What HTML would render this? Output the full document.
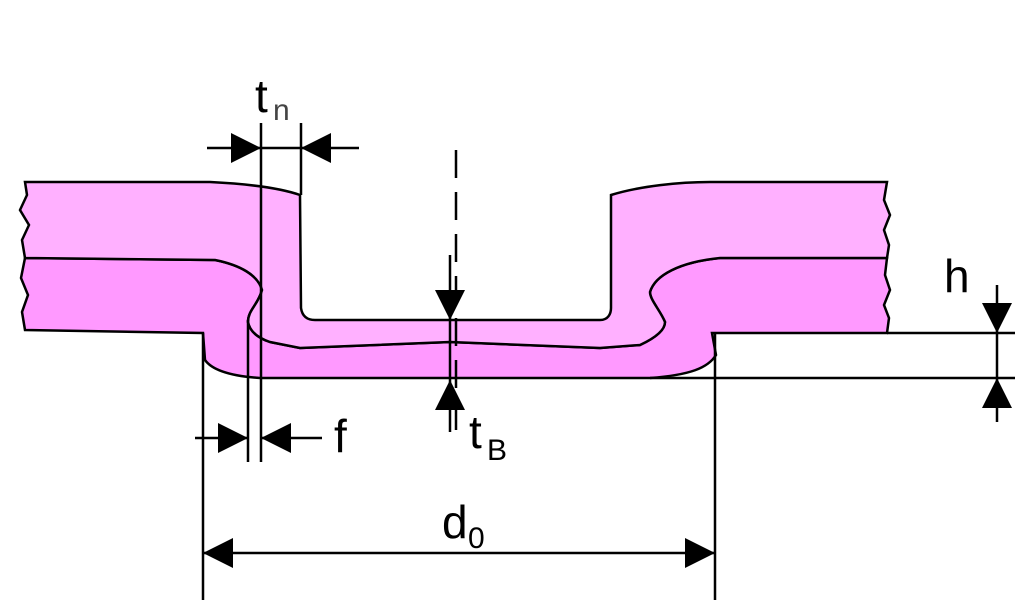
<!DOCTYPE html><html><head><style>body{margin:0;background:#fff}svg{display:block}</style></head><body>
<svg width="1024" height="614" viewBox="0 0 1024 614" xmlns="http://www.w3.org/2000/svg" font-family="Liberation Sans, sans-serif">
<defs>
<marker id="a" viewBox="0 0 10 10" refX="10" refY="5" markerWidth="30" markerHeight="30" markerUnits="userSpaceOnUse" orient="auto"><path d="M0,0L10,5L0,10z" fill="#000"/></marker>
</defs>
<path d="M25,258 L215,260 C240,265 258,275 262,290 C258,305 248,310 248,322 C250,332 258,338 270,342 L300,348 L450,342 L600,348 L640,345 C655,338 665,330 665,322 C660,310 650,300 650,292 C655,275 680,262 720,258 L887,258 L885,275 L890,290 L884,305 L889,318 L887,333 L712,333 L716,355 C708,368 690,375 650,378 L260,378 C230,376 212,370 205,360 L203,333 L25,330 L22,312 L28,295 L21,278 Z" fill="#FF99FF" stroke="#000" stroke-width="2.5"/>
<path d="M25,182 L210,182 C250,184 280,188 300,195 L301,308 C302,315 306,320 315,320 L600,320 C608,320 611,314 611,308 L611,195 C640,186 680,182 710,182 L887,182 L884,200 L890,215 L884,230 L889,245 L887,258 L720,258 C680,262 655,275 650,292 C650,300 660,310 665,322 C665,330 655,338 640,345 L600,348 L450,342 L300,348 L270,342 C258,338 250,332 248,322 C248,310 258,305 262,290 C258,275 240,265 215,260 L25,258 L22,240 L29,225 L20,210 L27,195 Z" fill="#FFB0FF" stroke="#000" stroke-width="2.5"/>
<g stroke="#000" stroke-width="2.5" fill="none">
<line x1="261" y1="123" x2="261" y2="462"/>
<line x1="301" y1="123" x2="301" y2="195"/>
<line x1="248" y1="320" x2="248" y2="462"/>
<line x1="203" y1="333" x2="203" y2="600"/>
<line x1="715" y1="333" x2="715" y2="600"/>
<line x1="456" y1="150" x2="456" y2="432" stroke-dasharray="28,14"/>
<line x1="887" y1="333" x2="1015" y2="333"/>
<line x1="650" y1="378" x2="1015" y2="378"/>
<line x1="450" y1="320" x2="450" y2="380"/>
<line x1="997" y1="333" x2="997" y2="378"/>
<line x1="207" y1="148" x2="261" y2="148" marker-end="url(#a)"/>
<line x1="359" y1="148" x2="301" y2="148" marker-end="url(#a)"/>
<line x1="261" y1="148" x2="301" y2="148"/>
<line x1="195" y1="438" x2="248" y2="438" marker-end="url(#a)"/>
<line x1="322" y1="438" x2="261" y2="438" marker-end="url(#a)"/>
<line x1="450" y1="255" x2="450" y2="320" marker-end="url(#a)"/>
<line x1="450" y1="432" x2="450" y2="380" marker-end="url(#a)"/>
<line x1="997" y1="285" x2="997" y2="333" marker-end="url(#a)"/>
<line x1="997" y1="422" x2="997" y2="378" marker-end="url(#a)"/>
<line x1="460" y1="553" x2="203" y2="553" marker-end="url(#a)"/>
<line x1="460" y1="553" x2="715" y2="553" marker-end="url(#a)"/>
</g>
<g fill="#000">
<text x="255" y="112" font-size="46">t</text><text x="273" y="120" font-size="30" fill="#444">n</text>
<text x="334" y="452" font-size="46">f</text>
<text x="469" y="448" font-size="46">t</text><text x="487" y="460" font-size="30">B</text>
<text x="944" y="292" font-size="46">h</text>
<text x="442" y="538" font-size="46">d</text><text x="468" y="548" font-size="30">0</text>
</g>
</svg>
</body></html>
